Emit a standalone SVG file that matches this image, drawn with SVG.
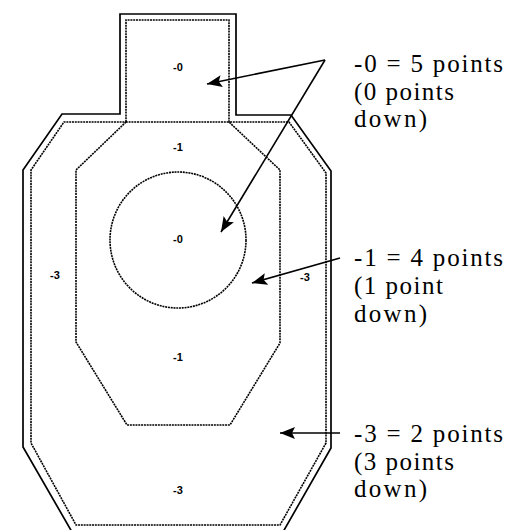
<svg xmlns="http://www.w3.org/2000/svg" width="508" height="530" viewBox="0 0 508 530">
<defs>
<marker id="ah" markerUnits="userSpaceOnUse" markerWidth="18" markerHeight="14" refX="15" refY="6" orient="auto">
<path d="M0,0 L15,6 L0,12 L3,6 Z" fill="#000"/>
</marker>
<style>
.solid{fill:none;stroke:#000;stroke-width:1.7;stroke-linejoin:miter}
.dot{fill:none;stroke:#000;stroke-width:1.6;stroke-dasharray:2 0.8}
.lbl{font-family:'Liberation Sans',Arial,sans-serif;font-size:11px;font-weight:bold;text-anchor:middle;fill:#000}
.txt{font-family:'Liberation Serif','Times New Roman',serif;font-size:25px;fill:#000}
.arr{stroke:#000;stroke-width:1.6;fill:none;marker-end:url(#ah)}
</style>
</defs>
<rect width="508" height="530" fill="#fff"/>
<g id="target">
<path class="solid" d="M120,114 V14 H236 V115 H291 L331,171 V448 L283,532 H72 L23,447 V170 L62,114 Z"/>
<path class="dot" d="M126,122 V20 H229 V122 H289 L326,173 V443 L280,525 H76 L31,443 V170 L64,122 Z"/>
</g>
<g id="zone-1">
<path class="dot" d="M126,122 L76,170 V342 L127,425 H230 L280,343 V170 L229,122 Z"/>
</g>
<g id="zone-0-circle">
<circle class="dot" cx="178" cy="240" r="68"/>
</g>
<g id="labels">
<text class="lbl" x="178" y="71">-0</text>
<text class="lbl" x="178" y="151">-1</text>
<text class="lbl" x="178" y="243">-0</text>
<text class="lbl" x="55" y="279">-3</text>
<text class="lbl" x="305" y="281">-3</text>
<text class="lbl" x="178" y="361">-1</text>
<text class="lbl" x="178" y="494">-3</text>
</g>
<g id="legend-0">
<text class="txt" x="354" y="72" textLength="149" lengthAdjust="spacing">-0 = 5 points</text>
<text class="txt" x="354" y="100" textLength="100" lengthAdjust="spacing">(0 points</text>
<text class="txt" x="354" y="127" textLength="73" lengthAdjust="spacing">down)</text>
</g>
<g id="legend-1">
<text class="txt" x="354" y="266" textLength="149" lengthAdjust="spacing">-1 = 4 points</text>
<text class="txt" x="354" y="294" textLength="89" lengthAdjust="spacing">(1 point</text>
<text class="txt" x="354" y="322" textLength="73" lengthAdjust="spacing">down)</text>
</g>
<g id="legend-3">
<text class="txt" x="354" y="442" textLength="149" lengthAdjust="spacing">-3 = 2 points</text>
<text class="txt" x="354" y="470" textLength="100" lengthAdjust="spacing">(3 points</text>
<text class="txt" x="354" y="497" textLength="73" lengthAdjust="spacing">down)</text>
</g>
<g id="connectors">
<line class="arr" x1="325" y1="60" x2="207" y2="84"/>
<line class="arr" x1="325" y1="60" x2="221" y2="232"/>
<line class="arr" x1="340" y1="258" x2="252" y2="283"/>
<line class="arr" x1="340" y1="433" x2="280" y2="433"/>
</g>
</svg>
